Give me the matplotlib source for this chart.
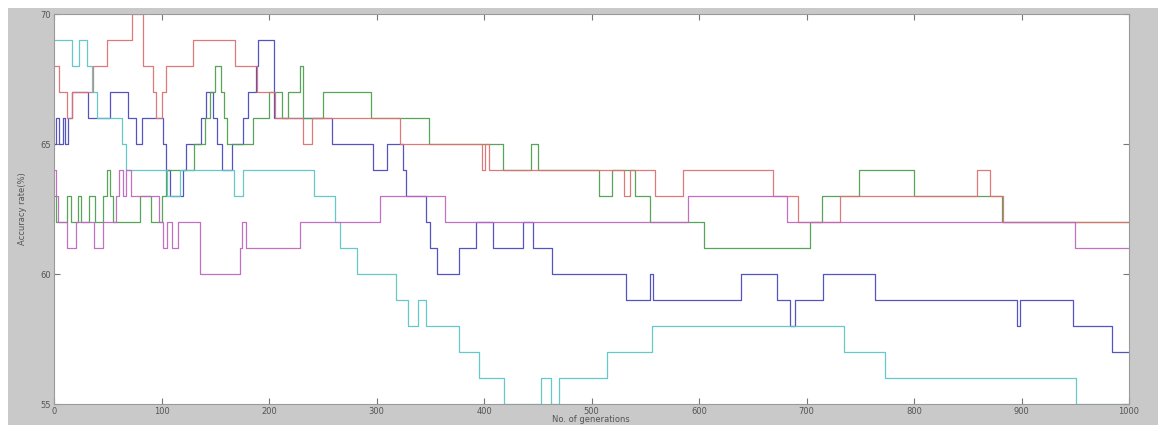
import matplotlib
matplotlib.use("Agg")
import matplotlib.pyplot as plt
from matplotlib.patches import Rectangle

# Generation at which each run's accuracy changes, and the new accuracy (%)
red_gen = [0, 5, 12, 17, 36, 49, 73, 83, 92, 95, 100, 104, 129, 168, 189, 206, 232, 240,
           322, 398, 401, 405, 530, 536, 559, 585, 669, 692, 731, 859, 871, 883, 1000]
red_acc = [68, 67, 66, 67, 68, 69, 70, 68, 67, 66, 67, 68, 69, 68, 67, 66, 65, 66,
           65, 64, 65, 64, 63, 64, 63, 64, 63, 62, 63, 64, 63, 62, 62]

blue_gen = [0, 2, 5, 8, 10, 13, 17, 32, 52, 69, 76, 82, 101, 104, 108, 120, 123, 137, 141,
            148, 152, 156, 166, 176, 180, 188, 190, 205, 259, 297, 310, 325, 327, 346, 350,
            356, 377, 393, 408, 436, 446, 463, 532, 554, 557, 639, 673, 685, 689, 715, 764,
            896, 899, 948, 984, 1000]
blue_acc = [65, 66, 65, 66, 65, 66, 67, 66, 67, 66, 65, 66, 65, 64, 63, 64, 65, 66, 67,
            66, 65, 64, 65, 66, 67, 68, 69, 66, 65, 64, 65, 64, 63, 62, 61,
            60, 61, 62, 61, 62, 61, 60, 59, 60, 59, 60, 59, 58, 59, 60, 59,
            58, 59, 58, 57, 57]

green_gen = [0, 2, 12, 16, 22, 25, 33, 38, 46, 49, 52, 55, 80, 90, 100, 104, 130, 140, 145,
             150, 155, 158, 161, 185, 200, 212, 218, 229, 232, 250, 295, 349, 418, 444, 450,
             507, 519, 540, 554, 605, 703, 714, 749, 800, 882, 1000]
green_acc = [63, 62, 63, 62, 63, 62, 63, 62, 63, 64, 63, 62, 63, 62, 63, 64, 65, 66, 67,
             68, 67, 66, 65, 66, 67, 66, 67, 68, 66, 67, 66, 65, 64, 65, 64,
             63, 64, 63, 62, 61, 62, 63, 64, 63, 62, 62]

cyan_gen = [0, 17, 23, 31, 35, 40, 63, 67, 105, 117, 167, 176, 242, 261, 266, 282, 318,
            329, 339, 346, 377, 395, 419, 453, 462, 470, 514, 556, 735, 773, 951, 1000]
cyan_acc = [69, 68, 69, 68, 67, 66, 65, 64, 63, 64, 63, 64, 63, 62, 61, 60, 59,
            58, 59, 58, 57, 56, 55, 56, 55, 56, 57, 58, 57, 56, 55, 55]

magenta_gen = [0, 2, 4, 12, 20, 37, 46, 58, 60, 64, 67, 72, 98, 101, 105, 110, 115, 136,
               173, 175, 179, 229, 303, 364, 590, 682, 950, 1000]
magenta_acc = [64, 63, 62, 61, 62, 61, 62, 63, 64, 63, 64, 63, 62, 61, 62, 61, 62, 60,
               61, 62, 61, 62, 63, 62, 63, 62, 61, 61]

x_ticks = [0, 100, 200, 300, 400, 500, 600, 700, 800, 900, 1000]
y_ticks = [55, 60, 65, 70]

series = [
    (blue_gen, blue_acc, "#4b4bbd"),
    (green_gen, green_acc, "#4f9f4f"),
    (red_gen, red_acc, "#dc7272"),
    (cyan_gen, cyan_acc, "#5ec6c6"),
    (magenta_gen, magenta_acc, "#bf68bf"),
]

W, H = 1164, 425
fig = plt.figure(figsize=(W / 100, H / 100), dpi=100, facecolor="white")

# grey window background around the axes
fig.patches.append(Rectangle((8 / W, 0), (1158 - 8) / W, (H - 8) / H,
                             transform=fig.transFigure, facecolor="#c9c9c9",
                             edgecolor="none", zorder=-10))

ax = fig.add_axes([54 / W, (H - 404) / H, (1129 - 54) / W, (404 - 14) / H])
ax.set_facecolor("white")

for gens, acc, col in series:
    ax.plot(gens, acc, drawstyle="steps-post", color=col, lw=0.9, alpha=0.95)

ax.set_xlim(0, 1000)
ax.set_ylim(55, 70)
ax.set_xticks(x_ticks)
ax.set_yticks(y_ticks)
ax.set_xticklabels([str(t) for t in x_ticks])
ax.set_yticklabels([str(t) for t in y_ticks])
ax.tick_params(direction="in", length=4, width=0.8, top=True, right=True,
               labelsize=6, labelcolor="#555555", color="#777777", pad=2)
for s in ax.spines.values():
    s.set_color("#9a9a9a")
    s.set_linewidth(0.8)

ax.set_ylabel("Accuracy rate(%)", fontsize=6, color="#555555", labelpad=10)
fig.text(591 / W, (H - 415) / H, "No. of generations", fontsize=6, color="#555555",
         ha="center", va="top")

fig.savefig("out.png", dpi=100, facecolor="white")
